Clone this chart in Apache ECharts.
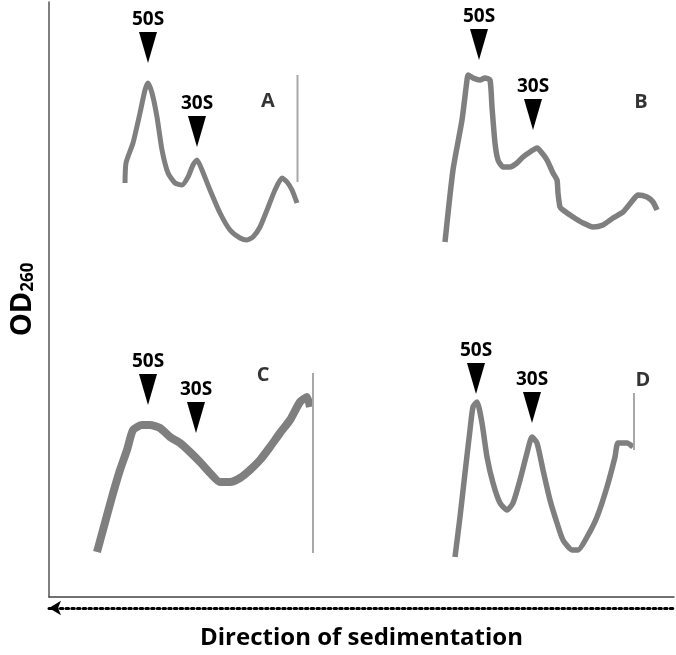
<!DOCTYPE html>
<html>
<head>
<meta charset="utf-8">
<script src="https://cdn.jsdelivr.net/npm/echarts@6/dist/echarts.min.js"></script>
<style>
    html, body { margin: 0; padding: 0; background: #fff; }
    #chart { width: 676px; height: 655px; }
</style>
</head>
<body>
<div id="chart"></div>
<script type="text/javascript">
    // fraction position (x) vs OD260 (y), read from the four gradient profiles
    var curveA = [[3.5, 0.77], [3.6, 0.97], [4.3, 1.17], [5.0, 1.47], [5.5, 1.70], [5.8, 1.77], [6.2, 1.67], [6.7, 1.43],
        [7.2, 1.10], [7.8, 0.87], [8.5, 0.77], [9.2, 0.75], [9.8, 0.83], [10.3, 0.95], [10.7, 1.00], [11.2, 0.90],
        [12.0, 0.70], [13.0, 0.47], [14.0, 0.30], [15.0, 0.22], [15.7, 0.20], [16.3, 0.23], [17.0, 0.33], [17.7, 0.50],
        [18.5, 0.70], [19.2, 0.82], [19.7, 0.78], [20.2, 0.70], [20.7, 0.57]];
    var curveB = [[1.5, 0.18], [2.3, 0.90], [3.2, 1.40], [3.7, 1.80], [3.8, 1.85], [4.3, 1.82], [5.0, 1.80], [5.5, 1.82],
        [6.0, 1.80], [6.2, 1.53], [6.5, 1.17], [6.8, 1.00], [7.3, 0.93], [8.0, 0.93], [8.7, 0.97], [9.3, 1.03],
        [10.0, 1.08], [10.7, 1.12], [11.2, 1.07], [11.7, 1.00], [12.3, 0.87], [12.7, 0.80], [12.8, 0.67], [13.0, 0.53],
        [13.3, 0.50], [14.3, 0.43], [15.3, 0.37], [16.3, 0.33], [17.3, 0.35], [18.3, 0.42], [19.3, 0.48], [20.3, 0.60],
        [20.8, 0.65], [21.7, 0.63], [22.3, 0.58], [22.7, 0.50]];
    var curveC = [[0.7, 0.08], [1.3, 0.30], [2.2, 0.63], [3.0, 0.90], [3.7, 1.10], [4.3, 1.30], [5.2, 1.35], [6.0, 1.35],
        [7.0, 1.32], [8.0, 1.23], [9.0, 1.17], [10.0, 1.08], [11.0, 0.98], [12.0, 0.87], [13.0, 0.78], [14.0, 0.78],
        [15.0, 0.82], [16.0, 0.90], [17.0, 1.00], [18.0, 1.13], [19.0, 1.27], [20.0, 1.40], [21.0, 1.58], [21.7, 1.63],
        [22.0, 1.53]];
    var curveD = [[2.5, 0.03], [3.0, 0.43], [3.5, 0.87], [4.0, 1.30], [4.3, 1.53], [4.7, 1.58], [5.2, 1.37], [5.7, 1.03],
        [6.3, 0.77], [7.0, 0.57], [7.7, 0.50], [8.3, 0.57], [9.0, 0.80], [9.7, 1.07], [10.2, 1.23], [10.7, 1.17],
        [11.3, 0.90], [12.0, 0.60], [12.7, 0.37], [13.3, 0.20], [14.2, 0.10], [14.8, 0.10], [15.7, 0.23], [16.7, 0.43],
        [17.7, 0.73], [18.5, 1.03], [18.8, 1.17], [19.7, 1.17], [20.3, 1.13]];

    // spikes at the top of the gradient
    var spikeA = [[20.75, 0.78], [20.75, 1.85]];
    var spikeB = [];
    var spikeC = [[22.3, 0.07], [22.3, 1.87]];
    var spikeD = [[20.4, 1.10], [20.4, 1.67]];

    // ribosome subunit markers (arrow tips)
    var markerNames = ['50S', '30S'];
    var markersA = [[5.8, 1.97], [10.7, 1.13]];
    var markersB = [[4.9, 2.00], [10.3, 1.30]];
    var markersC = [[5.8, 1.55], [10.6, 1.27]];
    var markersD = [[4.6, 1.66], [10.2, 1.37]];

    var panelNames = ['A', 'B', 'C', 'D'];
    var panelLetterPos = [[17.8, 1.59], [21.1, 1.58], [17.3, 1.85], [21.3, 1.80]];

    var curves = [curveA, curveB, curveC, curveD];
    var spikes = [spikeA, spikeB, spikeC, spikeD];
    var markers = [markersA, markersB, markersC, markersD];
    var curveWidth = [5, 5.5, 8, 5.5];

    var FONT = '"Open Sans", "Noto Sans", sans-serif';
    var panelGrids = [
        {left: 90, top: 20, width: 240, height: 240},
        {left: 430, top: 20, width: 240, height: 240},
        {left: 90, top: 320, width: 240, height: 240},
        {left: 430, top: 320, width: 240, height: 240}
    ];

    var grids = [{left: 45, right: 2, top: 2, bottom: 52}];
    var xAxes = [
        {
            gridIndex: 0, type: 'value', min: 0, max: 1,
            axisLine: {show: true, lineStyle: {color: '#444', width: 1.5}},
            axisTick: {show: false}, axisLabel: {show: false}, splitLine: {show: false},
            name: 'Direction of sedimentation', nameLocation: 'middle', nameGap: 29,
            nameTextStyle: {fontFamily: FONT, fontWeight: 'bold', fontSize: 24, color: '#000'}
        },
        {
            // dotted arrow under the axis
            gridIndex: 0, type: 'value', min: 0, max: 1, position: 'bottom', offset: 11,
            axisLine: {
                show: true, symbol: ['arrow', 'none'], symbolSize: [11, 12],
                lineStyle: {color: '#000', width: 3, type: [2.5, 3.2]}
            },
            axisTick: {show: false}, axisLabel: {show: false}, splitLine: {show: false}
        }
    ];
    var yAxes = [{
        gridIndex: 0, type: 'value', min: 0, max: 1,
        axisLine: {show: true, lineStyle: {color: '#555', width: 1.5}},
        axisTick: {show: false}, axisLabel: {show: false}, splitLine: {show: false},
        name: '{a|OD}{b|260}', nameLocation: 'middle', nameGap: 12, nameRotate: 90,
        nameTextStyle: {
            rich: {
                a: {fontFamily: FONT, fontWeight: 'bold', fontSize: 29, lineHeight: 30, verticalAlign: 'bottom', color: '#000'},
                b: {fontFamily: FONT, fontWeight: 'bold', fontSize: 17, lineHeight: 10, verticalAlign: 'bottom', color: '#000'}
            }
        }
    }];
    var series = [];

    for (var i = 0; i < 4; i++) {
        grids.push(panelGrids[i]);
        xAxes.push({gridIndex: i + 1, type: 'value', min: 0, max: 24, show: false});
        yAxes.push({gridIndex: i + 1, type: 'value', min: 0, max: 2.4, show: false});
        series.push({
            type: 'line', xAxisIndex: i + 2, yAxisIndex: i + 1,
            data: curves[i], showSymbol: false, smooth: 0.2,
            lineStyle: {color: '#7f7f7f', width: curveWidth[i], join: 'round'},
            silent: true
        });
        if (spikes[i].length) {
            series.push({
                type: 'line', xAxisIndex: i + 2, yAxisIndex: i + 1,
                data: spikes[i], showSymbol: false,
                lineStyle: {color: '#a8a8a8', width: 2},
                silent: true
            });
        }
        series.push({
            type: 'scatter', xAxisIndex: i + 2, yAxisIndex: i + 1,
            data: markers[i].map(function (p, k) { return {name: markerNames[k], value: p}; }),
            symbol: 'path://M0,0 L16,0 L8,31 Z', symbolSize: [18, 31], symbolOffset: [0, -15.5],
            itemStyle: {color: '#000', opacity: 1},
            label: {
                show: true, position: 'top', distance: 3, formatter: '{b}',
                fontFamily: FONT, fontWeight: 'bold', fontSize: 19, color: '#000'
            },
            z: 5, silent: true
        });
        series.push({
            type: 'scatter', xAxisIndex: i + 2, yAxisIndex: i + 1,
            data: [{name: panelNames[i], value: panelLetterPos[i]}],
            symbolSize: 0,
            label: {
                show: true, position: 'inside', formatter: '{b}',
                fontFamily: FONT, fontWeight: 'bold', fontSize: 20, color: '#000'
            },
            z: 5, silent: true
        });
    }

    var chart = echarts.init(document.getElementById('chart'));
    chart.setOption({
        animation: false,
        backgroundColor: '#fff',
        grid: grids,
        xAxis: xAxes,
        yAxis: yAxes,
        series: series
    });
</script>
</body>
</html>
